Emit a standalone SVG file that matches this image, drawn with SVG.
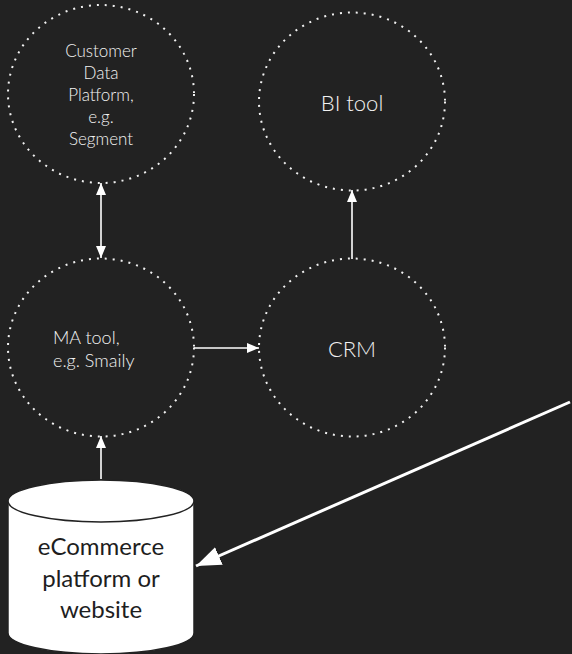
<svg xmlns="http://www.w3.org/2000/svg" width="572" height="654" viewBox="0 0 572 654">
<style>
.bg{fill:#222222}
.node{fill:none;stroke:#f2f2f2;stroke-width:2;stroke-dasharray:2 6}
.lbl{font-family:Lato,"Liberation Sans",sans-serif;font-weight:300;fill:#f2f2f2}
.c{text-anchor:middle}
.conn{stroke:#ffffff;stroke-width:1.6;fill:none}
.big{stroke:#ffffff;stroke-width:3;fill:none}
.cyl{fill:#ffffff;stroke:#222222;stroke-width:1.5}
.ctext{font-family:Lato,"Liberation Sans",sans-serif;fill:#1e1e1e;text-anchor:middle;font-size:24px}
</style>
<defs>
<marker id="ah" markerUnits="userSpaceOnUse" markerWidth="13" markerHeight="11" refX="12" refY="5" orient="auto-start-reverse" viewBox="0 0 13 11">
<path d="M0,0 L12,5 L0,10 z" fill="#ffffff"/>
</marker>
<marker id="bh" markerUnits="userSpaceOnUse" markerWidth="26" markerHeight="20" refX="25" refY="9.5" orient="auto" viewBox="0 0 26 20">
<path d="M0,0 L25,9.5 L0,19 z" fill="#ffffff"/>
</marker>
</defs>
<rect class="bg" x="0" y="0" width="572" height="654"/>
<g id="connectors">
<line class="conn" x1="101" y1="183" x2="101" y2="258" marker-start="url(#ah)" marker-end="url(#ah)"/>
<line class="conn" x1="194" y1="348" x2="259" y2="348" marker-end="url(#ah)"/>
<line class="conn" x1="352" y1="259" x2="352" y2="190" marker-end="url(#ah)"/>
<line class="conn" x1="101" y1="479" x2="101" y2="436" marker-end="url(#ah)"/>
<line class="big" x1="570" y1="402" x2="196" y2="566" marker-end="url(#bh)"/>
</g>
<g id="cdp">
<ellipse class="node" cx="101" cy="94" rx="93" ry="89"/>
<text class="lbl c" font-size="17" x="101" y="57">Customer</text>
<text class="lbl c" font-size="17" x="101" y="79">Data</text>
<text class="lbl c" font-size="17" x="101" y="101">Platform,</text>
<text class="lbl c" font-size="17" x="101" y="123">e.g.</text>
<text class="lbl c" font-size="17" x="101" y="145">Segment</text>
</g>
<g id="bi">
<ellipse class="node" cx="352" cy="101.5" rx="93" ry="89"/>
<text class="lbl c" font-size="22" x="352" y="111">BI tool</text>
</g>
<g id="ma">
<ellipse class="node" cx="101" cy="347.5" rx="93" ry="89"/>
<text class="lbl" font-size="18" x="53" y="344">MA tool,</text>
<text class="lbl" font-size="18" x="53" y="367">e.g. Smaily</text>
</g>
<g id="crm">
<ellipse class="node" cx="352" cy="347.5" rx="93" ry="89"/>
<text class="lbl c" font-size="22" x="352" y="357">CRM</text>
</g>
<g id="ecommerce">
<path class="cyl" d="M8,501 A93,21 0 0 1 194,501 L194,633 A93,21 0 0 1 8,633 Z"/>
<path class="cyl" fill="none" d="M8,501 A93,21 0 0 0 194,501"/>
<text class="ctext" x="101" y="555">eCommerce</text>
<text class="ctext" x="101" y="587">platform or</text>
<text class="ctext" x="101" y="618">website</text>
</g>
</svg>
